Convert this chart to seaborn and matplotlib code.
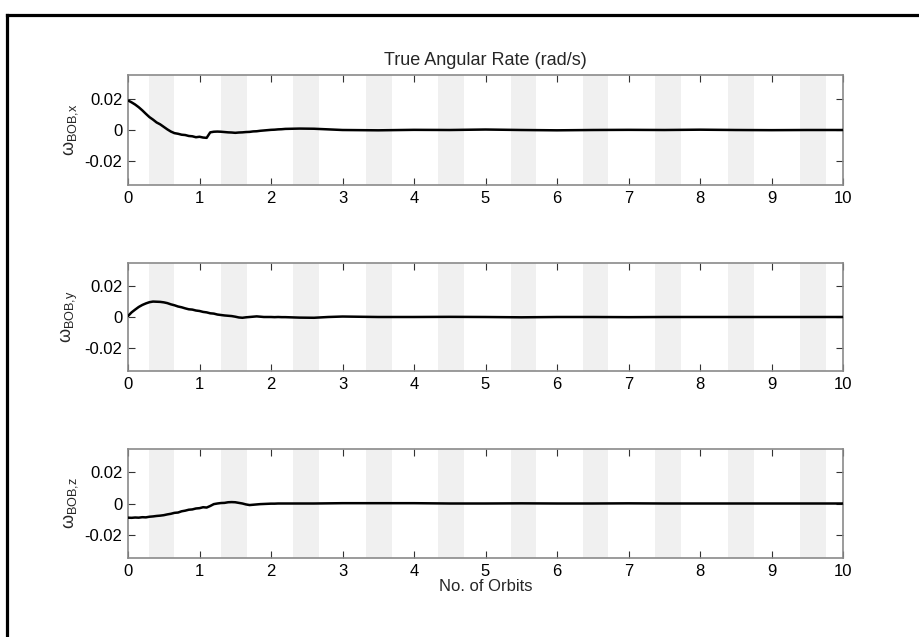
import numpy as np
import pandas as pd
import matplotlib
matplotlib.use("Agg")
import matplotlib.pyplot as plt
import seaborn as sns
from matplotlib.lines import Line2D
from matplotlib.ticker import FuncFormatter

sns.set_style("ticks")
plt.rcParams['font.family'] = ['Liberation Sans', 'DejaVu Sans']
plt.rcParams['mathtext.fontset'] = 'custom'
plt.rcParams['mathtext.rm'] = 'Liberation Sans'
plt.rcParams['mathtext.it'] = 'Liberation Sans'

# ---- data ----
orbits = [0.00, 0.05, 0.10, 0.15, 0.20, 0.25, 0.30, 0.35, 0.40, 0.45,
          0.50, 0.55, 0.60, 0.65, 0.70, 0.75, 0.80, 0.85, 0.90, 0.95,
          1.00, 1.05, 1.10, 1.15, 1.20, 1.25, 1.30, 1.35, 1.40, 1.45,
          1.50, 1.55, 1.60, 1.65, 1.70, 1.75, 1.80, 1.85, 1.90, 1.95,
          2.00, 2.05, 2.10, 2.15, 2.20,
          2.4, 2.6, 2.8, 3.0, 3.5, 4.0, 4.5, 5.0, 5.5, 6.0, 6.5, 7.0, 7.5,
          8.0, 8.5, 9.0, 9.5, 10.0]
w_x = [0.0188, 0.0176, 0.0162, 0.0145, 0.0125, 0.0103, 0.0082, 0.0066, 0.0048, 0.0036,
       0.0020, 0.0004, -0.0010, -0.0020, -0.0024, -0.0030, -0.0032, -0.0038, -0.0040, -0.0046,
       -0.0043, -0.0048, -0.0050, -0.0015, -0.0011, -0.0010, -0.0011, -0.0013, -0.0015, -0.0016,
       -0.0018, -0.0016, -0.0015, -0.0013, -0.0012, -0.0009, -0.0008, -0.0005, -0.0003, -0.0001,
       0.0001, 0.0002, 0.0004, 0.0005, 0.0007,
       0.0009, 0.0008, 0.0004, 0.0000, -0.0002, 0.0001, 0.0000, 0.0003, 0.0000, -0.0002, 0.0000, 0.0001, 0.0000,
       0.0002, 0.0000, -0.0001, 0.0000, 0.0000]
w_y = [0.0006, 0.0030, 0.0048, 0.0065, 0.0078, 0.0088, 0.0096, 0.0100, 0.0099, 0.0098,
       0.0095, 0.0090, 0.0082, 0.0076, 0.0068, 0.0063, 0.0056, 0.0050, 0.0048, 0.0042,
       0.0039, 0.0033, 0.0030, 0.0024, 0.0022, 0.0016, 0.0013, 0.0010, 0.0008, 0.0006,
       0.0002, -0.0003, -0.0005, -0.0002, 0.0000, 0.0002, 0.0004, 0.0002, 0.0000, 0.0000,
       0.0000, -0.0001, 0.0000, -0.0001, -0.0001,
       -0.0004, -0.0005, 0.0000, 0.0003, 0.0000, 0.0000, 0.0001, 0.0000, -0.0002, 0.0000, 0.0000, -0.0001, 0.0000,
       0.0000, 0.0000, 0.0000, 0.0000, 0.0000]
w_z = [-0.0091, -0.0092, -0.0090, -0.0091, -0.0088, -0.0089, -0.0085, -0.0083, -0.0080, -0.0078,
       -0.0075, -0.0070, -0.0066, -0.0060, -0.0058, -0.0050, -0.0046, -0.0040, -0.0038, -0.0032,
       -0.0030, -0.0024, -0.0026, -0.0016, -0.0004, 0.0000, 0.0003, 0.0004, 0.0008, 0.0009,
       0.0008, 0.0004, 0.0000, -0.0006, -0.0010, -0.0008, -0.0006, -0.0004, -0.0003, -0.0002,
       -0.0001, -0.0001, 0.0000, 0.0000, 0.0000,
       0.0000, 0.0000, 0.0001, 0.0002, 0.0002, 0.0002, 0.0000, 0.0000, 0.0001, 0.0000, 0.0000, 0.0001, 0.0000,
       0.0000, 0.0000, 0.0000, 0.0000, 0.0000]
band_start = [0.29, 1.30, 2.31, 3.33, 4.34, 5.35, 6.36, 7.37, 8.39, 9.40]
band_end = [0.65, 1.66, 2.67, 3.69, 4.70, 5.71, 6.72, 7.73, 8.75, 9.76]
y_ticks = [-0.02, 0, 0.02]
x_ticks = [0, 1, 2, 3, 4, 5, 6, 7, 8, 9, 10]
series = [("x", w_x), ("y", w_y), ("z", w_z)]

W, H = 919, 637
fig = plt.figure(figsize=(W / 100, H / 100), dpi=100)

axes_px = [(75, 185), (263, 371), (449, 558)]
left_px, right_px = 128, 843
gray = "#8a8a8a"

for i, ((comp, vals), (top, bot)) in enumerate(zip(series, axes_px)):
    ax = fig.add_axes([left_px / W, 1 - bot / H, (right_px - left_px) / W, (bot - top) / H])
    for s, e in zip(band_start, band_end):
        ax.axvspan(s, e, color="#f0f0f0", lw=0, zorder=0)
    df = pd.DataFrame({"orbit": orbits, "w": vals})
    sns.lineplot(data=df, x="orbit", y="w", ax=ax, color="black", lw=1.8, zorder=3)
    ax.set_xlim(0, 10)
    ax.set_ylim(-0.035, 0.035)
    ax.set_xticks(x_ticks)
    ax.set_yticks(y_ticks)
    ax.yaxis.set_major_formatter(FuncFormatter(lambda v, p: "%g" % round(v, 4)))
    ax.tick_params(direction="in", length=5, width=0.8, color="#333333",
                   top=True, right=True, labelsize=12, pad=4, labelcolor="black")
    for sp in ax.spines.values():
        sp.set_color(gray)
        sp.set_linewidth(1.2)
    ax.set_ylabel(r"$\omega_{\mathrm{BOB{,}%s}}$" % comp, fontsize=13, labelpad=3)
    if i == 2:
        ax.set_xlabel("No. of Orbits", fontsize=12, labelpad=0)
    else:
        ax.set_xlabel("")
    if i == 0:
        ax.set_title("True Angular Rate (rad/s)", fontsize=13, pad=7)

# figure frame (left and top edges visible)
fig.add_artist(Line2D([6.5 / W, 6.5 / W], [0, 1 - 14.5 / H], color="black", lw=2.3,
                      transform=fig.transFigure, solid_capstyle="projecting"))
fig.add_artist(Line2D([6.5 / W, 1], [1 - 14.5 / H, 1 - 14.5 / H], color="black", lw=2.3,
                      transform=fig.transFigure, solid_capstyle="projecting"))

fig.savefig("out.png", dpi=100)
